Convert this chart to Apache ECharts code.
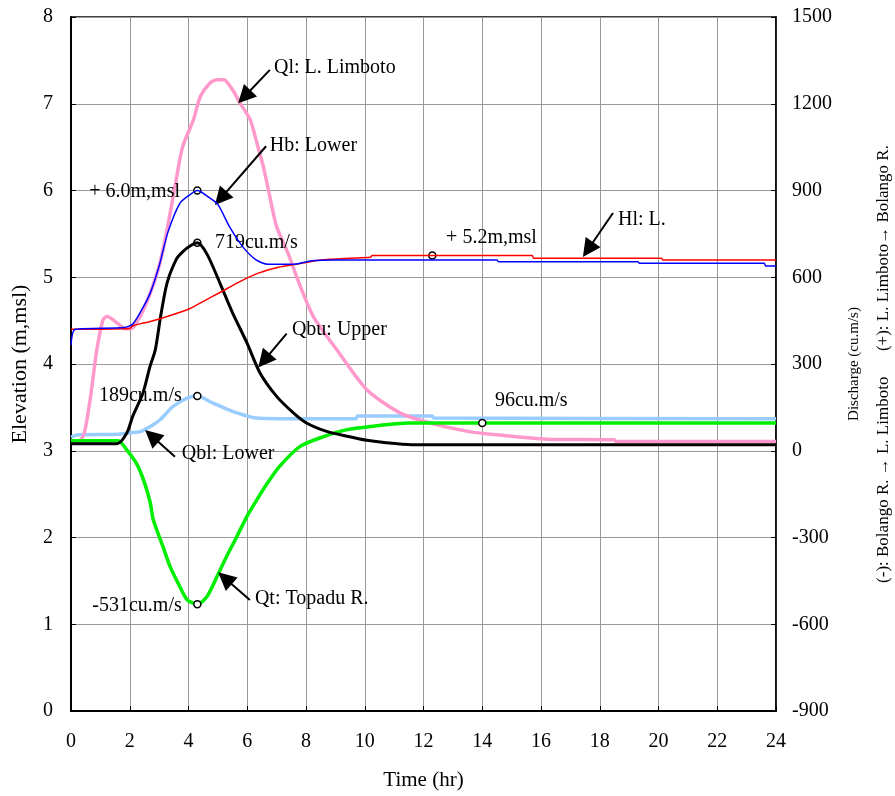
<!DOCTYPE html>
<html>
<head>
<meta charset="utf-8">
<script src="https://cdn.jsdelivr.net/npm/echarts@6/dist/echarts.min.js"></script>
<style>
  html, body { margin: 0; padding: 0; background: #fff; }
  #chart { width: 895px; height: 796px; }
</style>
</head>
<body>
<div id="chart"></div>
<script>
// 时间轴 (hr) 与各曲线数据，[时间, 数值]
const timeTicks = [0, 2, 4, 6, 8, 10, 12, 14, 16, 18, 20, 22, 24];

// Hb: Lower (m,msl)
const hbLower = [[0,4.22],[0.15,4.4],[1.8,4.42],[2.1,4.46],[2.4,4.62],[2.7,4.82],[3.0,5.13],[3.3,5.52],[3.7,5.85],[4.0,5.94],[4.3,6.0],[4.7,5.92],[5.0,5.84],[5.4,5.58],[5.85,5.35],[6.3,5.2],[6.7,5.15],[7.6,5.15],[8.2,5.19],[9,5.2],[14.5,5.2],[14.55,5.18],[19.3,5.18],[19.35,5.16],[23.6,5.16],[23.65,5.13],[24,5.13]];

// Hl: L. Limboto (m,msl)
const hlLake = [[0,4.4],[2.0,4.41],[2.1,4.44],[2.7,4.49],[3.3,4.55],[4.05,4.64],[4.6,4.74],[5.1,4.83],[5.75,4.95],[6.4,5.05],[7.0,5.11],[7.5,5.14],[8.0,5.17],[8.5,5.2],[9.5,5.22],[10.2,5.23],[10.25,5.25],[15.7,5.25],[15.75,5.22],[20.1,5.22],[20.15,5.2],[24,5.2]];

// Ql: L. Limboto (cu.m/s)
const qlLake = [[0,32],[0.3,35],[0.45,60],[0.65,176],[0.88,349],[1.09,453],[1.23,464],[1.57,442],[1.84,422],[2.05,422],[2.35,464],[2.7,546],[3.03,650],[3.3,780],[3.6,948],[3.8,1051],[4.17,1145],[4.4,1224],[4.73,1272],[4.97,1283],[5.2,1283],[5.5,1248],[5.75,1203],[6.1,1145],[6.3,1075],[6.55,982],[6.77,878],[7.0,775],[7.4,680],[7.8,570],[8.25,464],[9.05,349],[10.07,211],[11.2,131],[12.2,97],[13.5,67],[14.5,55],[16.2,40],[18.5,38],[18.55,32],[24,32]];

// Qbl: Lower (cu.m/s)
const qblLower = [[0,47],[0.25,55],[1.6,57],[2.0,62],[2.35,66],[2.7,84],[3.03,107],[3.47,153],[3.95,182],[4.3,189],[4.83,165],[5.5,136],[6.3,113],[7.1,111],[9.7,111],[9.75,120],[12.3,120],[12.35,113],[24,111]];

// Qt: Topadu R. (cu.m/s)
const qtTopadu = [[0,35],[1.6,35],[1.9,3],[2.25,-48],[2.5,-110],[2.7,-180],[2.8,-239],[3.13,-331],[3.37,-400],[3.7,-469],[3.95,-515],[4.3,-531],[4.63,-504],[4.97,-435],[5.3,-365],[5.65,-296],[5.99,-227],[6.33,-169],[6.7,-110],[7.1,-54],[7.8,15],[8.6,49],[9.4,73],[10.2,84],[11.5,96],[24,96]];

// Qbu: Upper (cu.m/s)
const qbuUpper = [[0,24],[1.57,24],[1.9,61],[2.1,119],[2.45,200],[2.69,292],[2.87,349],[3.05,464],[3.27,580],[3.6,665],[3.8,688],[4.05,708],[4.3,719],[4.63,680],[5.07,580],[5.5,477],[5.99,373],[6.43,270],[7.0,188],[7.57,131],[8.0,97],[8.7,67],[9.4,50],[10.07,36],[10.6,29],[11.6,21],[24,21]];

// 标注点 (峰值等)
const hbPeak = [4.3, 6.0];
const hlMark = [12.3, 5.25];
const qbuPeak = [4.3, 719];
const qblPeak = [4.3, 189];
const qtMin = [4.3, -531];
const qtMark = [14, 96];

// 箭头 (时间, 高程)
const arrows = [
  [[6.77, 7.39], [5.90, 7.08]],
  [[6.64, 6.51], [5.10, 5.91]],
  [[18.45, 5.74], [17.60, 5.32]],
  [[7.34, 4.35], [6.57, 4.04]],
  [[3.54, 2.93], [2.75, 3.17]],
  [[6.09, 1.28], [5.24, 1.53]]
];

// 文字标注 [文字, 时间, 高程, 对齐]
const notes = [
  ['Ql: L. Limboto', 6.91, 7.42, 'right'],
  ['Hb: Lower', 6.77, 6.52, 'right'],
  ['Hl: L.', 18.62, 5.66, 'right'],
  ['Qbu: Upper', 7.52, 4.39, 'right'],
  ['Qbl: Lower', 3.77, 2.96, 'right'],
  ['Qt: Topadu R.', 6.26, 1.29, 'right'],
  ['+ 6.0m,msl', 3.71, 5.98, 'left'],
  ['719cu.m/s', 4.9, 5.4, 'right'],
  ['189cu.m/s', 3.77, 3.63, 'left'],
  ['-531cu.m/s', 3.77, 1.21, 'left'],
  ['+ 5.2m,msl', 12.77, 5.45, 'right'],
  ['96cu.m/s', 14.43, 3.58, 'right']
];

const FONT = 'Liberation Serif';

function circleMark(pts) {
  return {
    symbol: 'circle',
    symbolSize: 7,
    silent: true,
    itemStyle: { color: '#fff', borderColor: '#000', borderWidth: 1.5 },
    label: { show: false },
    data: pts.map(p => ({ coord: p }))
  };
}

function lineSeries(name, data, color, width, axis, z, mark) {
  const s = {
    name: name,
    type: 'line',
    yAxisIndex: axis,
    data: data,
    showSymbol: false,
    smooth: 0.25,
    z: z,
    lineStyle: { color: color, width: width },
    itemStyle: { color: color }
  };
  if (mark) s.markPoint = mark;
  return s;
}

const chart = echarts.init(document.getElementById('chart'));

const hlSeries = lineSeries('Hl', hlLake, '#ff0000', 1.5, 0, 6, circleMark([hlMark]));
hlSeries.markLine = {
  silent: true,
  symbol: ['none', 'triangle'],
  symbolSize: [18, 18],
  lineStyle: { color: '#000', width: 2, type: 'solid' },
  itemStyle: { color: '#000' },
  label: { show: false },
  data: arrows.map(a => [{ coord: a[0] }, { coord: a[1] }])
};

// 文字标注用一个空系列承载
const noteSeries = {
  name: 'notes',
  type: 'line',
  yAxisIndex: 0,
  data: [],
  z: 10,
  markPoint: {
    silent: true,
    symbol: 'circle',
    symbolSize: 0,
    data: notes.map(n => ({
      coord: [n[1], n[2]],
      label: {
        show: true,
        formatter: n[0],
        position: n[3],
        distance: 0,
        color: '#000',
        fontFamily: FONT,
        fontSize: 20
      }
    }))
  }
};

const option = {
  animation: false,
  backgroundColor: '#fff',
  grid: {
    left: 71, right: 119, top: 17, bottom: 85,
    outerBoundsMode: 'none',
    containLabel: false,
    show: true, borderColor: '#000', borderWidth: 1.5, backgroundColor: 'transparent'
  },
  xAxis: {
    type: 'value',
    min: 0, max: 24, interval: 2,
    name: 'Time (hr)',
    nameLocation: 'middle',
    nameGap: 59,
    nameTextStyle: { fontFamily: FONT, fontSize: 21, color: '#000' },
    axisLine: { show: true, lineStyle: { color: '#000', width: 2 } },
    axisTick: { show: true, inside: true, length: 5, lineStyle: { color: '#000' } },
    axisLabel: { fontFamily: FONT, fontSize: 20, color: '#000', margin: 21 },
    splitLine: { show: true, lineStyle: { color: '#999', width: 1 } }
  },
  yAxis: [
    {
      type: 'value',
      min: 0, max: 8, interval: 1,
      name: 'Elevation (m,msl)',
      nameLocation: 'middle',
      nameGap: 40,
      nameTextStyle: { fontFamily: FONT, fontSize: 22, color: '#000' },
      axisLine: { show: true, lineStyle: { color: '#000', width: 2 } },
      axisTick: { show: true, inside: true, length: 5, lineStyle: { color: '#000' } },
      axisLabel: { fontFamily: FONT, fontSize: 20, color: '#000', margin: 18 },
      splitLine: { show: true, lineStyle: { color: '#999', width: 1 } }
    },
    {
      type: 'value',
      position: 'right',
      min: -900, max: 1500, interval: 300,
      name: '{a|Discharge (cu.m/s)}\n{b|(-): Bolango R. \u2192 L. Limboto      (+): L. Limboto\u2192 Bolango R.}',
      nameLocation: 'middle',
      nameGap: 63,
      nameTextStyle: {
        fontFamily: FONT, color: '#000',
        rich: {
          a: { fontFamily: FONT, fontSize: 15, lineHeight: 30, color: '#000' },
          b: { fontFamily: FONT, fontSize: 17, lineHeight: 30, color: '#000' }
        }
      },
      axisLine: { show: true, lineStyle: { color: '#000', width: 1.5 } },
      axisTick: { show: true, inside: true, length: 5, lineStyle: { color: '#000' } },
      axisLabel: { fontFamily: FONT, fontSize: 20, color: '#000', margin: 16, formatter: v => String(v) },
      splitLine: { show: false }
    }
  ],
  series: [
    lineSeries('Qbl', qblLower, '#99ccff', 3.5, 1, 2, circleMark([qblPeak])),
    lineSeries('Ql', qlLake, '#ff99cc', 3.5, 1, 3, null),
    lineSeries('Qt', qtTopadu, '#00ee00', 3.5, 1, 4, circleMark([qtMin, qtMark])),
    lineSeries('Qbu', qbuUpper, '#000000', 3, 1, 5, circleMark([qbuPeak])),
    hlSeries,
    lineSeries('Hb', hbLower, '#0000ff', 1.5, 0, 7, circleMark([hbPeak])),
    noteSeries
  ]
};

chart.setOption(option);
</script>
</body>
</html>
